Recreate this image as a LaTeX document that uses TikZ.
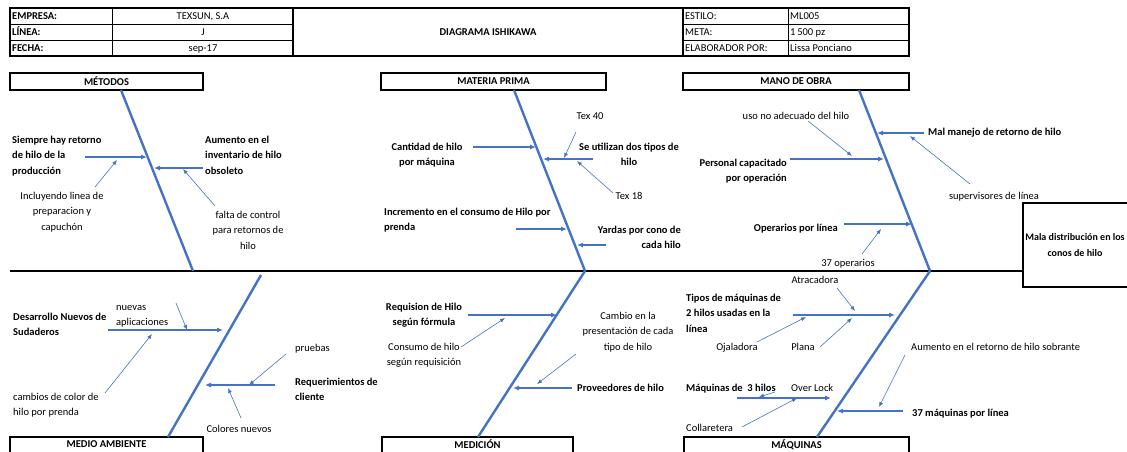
\documentclass[tikz,border=0pt]{standalone}
\usepackage{fontspec}
\setmainfont{Carlito}
\usetikzlibrary{arrows.meta}
\definecolor{boneblue}{RGB}{68,114,196}
\begin{document}
\begin{tikzpicture}[x=1pt,y=-1pt,
  font=\fontsize{10.5}{15.5}\selectfont,
  bone/.style={boneblue,line width=2.4pt},
  cause/.style={boneblue,line width=1.1pt,-{Latex[length=6pt,width=5pt]}},
  sub/.style={boneblue,line width=0.6pt,-{Latex[length=5pt,width=4pt]}},
  catbox/.style={draw,line width=1.6pt,minimum height=17pt,inner sep=0pt,font=\fontsize{10.5}{12}\selectfont\bfseries},
  cattext/.style={inner sep=0pt,font=\fontsize{10.5}{12}\selectfont\bfseries},
  lbl/.style={inner sep=0pt},
  blbl/.style={inner sep=0pt,font=\fontsize{10.5}{15.5}\selectfont\bfseries}]
\useasboundingbox (0,0) rectangle (1127,451);
\clip (0,0) rectangle (1127,451);
\draw[line width=1.6pt] (10,8) rectangle (909,56);
\draw[line width=0.6pt] (10,24) -- (293,24) (10,40) -- (293,40) (683,24) -- (909,24) (683,40) -- (909,40);
\draw[line width=0.6pt] (112,8) -- (112,56) (788,8) -- (788,56);
\draw[line width=1.2pt] (293,8) -- (293,56) (683,8) -- (683,56);
\node[blbl,anchor=base west] (empresa) at (12,19.5) {EMPRESA:};
\node[blbl,anchor=base west] (linea) at (12,35.5) {LÍNEA:};
\node[blbl,anchor=base west] (fecha) at (12,51.5) {FECHA:};
\node[lbl,anchor=base] (texsun) at (203,19.5) {TEXSUN, S.A};
\node[lbl,anchor=base] (j) at (203,35.5) {J};
\node[lbl,anchor=base] (sep) at (203,51.5) {sep-17};
\node[blbl,anchor=base] (titulo) at (488,35.5) {DIAGRAMA ISHIKAWA};
\node[lbl,anchor=base west] (estilo) at (685,19.5) {ESTILO:};
\node[lbl,anchor=base west] (meta) at (685,35.5) {META:};
\node[lbl,anchor=base west] (elab) at (685,51.5) {ELABORADOR POR:};
\node[lbl,anchor=base west] (ml) at (790,19.5) {ML005};
\node[lbl,anchor=base west] (pz) at (790,35.5) {1\,500 pz};
\node[lbl,anchor=base west] (lissa) at (790,51.5) {Lissa Ponciano};
\node[catbox,minimum width=193pt] (metodos) at (106.5,81.5) {MÉTODOS};
\node[catbox,minimum width=225pt] (materia) at (493.5,81.5) {MATERIA PRIMA};
\node[catbox,minimum width=226pt] (mano) at (796,81.5) {MANO DE OBRA};
\draw[line width=1.6pt] (10,458) |- (203,437) -- (203,458);
\draw[line width=1.6pt] (382,458) |- (573,437) -- (573,458);
\draw[line width=1.6pt] (684,458) |- (909,437) -- (909,458);
\node[cattext] (medio) at (106.5,444.5) {MEDIO AMBIENTE};
\node[cattext] (medicion) at (477.5,444.5) {MEDICIÓN};
\node[cattext] (maquinas) at (796.5,444.5) {MÁQUINAS};
\draw[line width=1.6pt] (1140,203) -| (1023,287) -- (1140,287);
\node[inner sep=0pt,align=center,font=\fontsize{10}{15.5}\selectfont\bfseries] (efecto) at (1075,245) {Mala distribución en los\\conos de hilo};
\draw[line width=2pt] (10,271) -- (1023,271);
\draw[bone] (121,90) -- (193,271);
\draw[bone] (514,90) -- (585,271);
\draw[bone] (859,90) -- (930,271);
\draw[bone] (261,275) -- (168,437);
\draw[bone] (585,271) -- (478,437);
\draw[bone] (930,271) -- (817,437);
\node[blbl,anchor=base west,align=left] (siempre) at (12,174) {Siempre hay retorno\\de hilo de la\\producción};
\node[lbl,anchor=base,align=center] (incluyendo) at (62,230) {Incluyendo linea de\\preparacion y\\capuchón};
\node[blbl,anchor=base west,align=left] (aumento) at (205,174) {Aumento en el\\inventario de hilo\\obsoleto};
\node[lbl,anchor=base,align=center] (falta) at (248,249) {falta de control\\para retornos de\\hilo};
\draw[cause] (85,157) -- (147,157);
\draw[sub] (95,187) -- (117,160);
\draw[cause] (203,168) -- (154,168);
\draw[sub] (215,206) -- (183,169);
\node[blbl,anchor=base,align=center] (cantidad) at (427,165.5) {Cantidad de hilo\\por máquina};
\node[blbl,anchor=base,align=center] (tipos) at (629,165.5) {Se utilizan dos tipos de\\hilo};
\node[lbl,anchor=base] (tex40) at (590,119.5) {Tex 40};
\node[lbl,anchor=base] (tex18) at (629,199.5) {Tex 18};
\node[blbl,anchor=base west,align=left] (incremento) at (384,230.5) {Incremento en el consumo de Hilo por\\prenda};
\node[blbl,anchor=base east,align=right] (yardas) at (681,248.5) {Yardas por cono de\\cada hilo};
\draw[cause] (473,147) -- (536,147);
\draw[cause] (593,159) -- (543,159);
\draw[sub] (576,132) -- (564,158);
\draw[sub] (613,193) -- (577,161);
\draw[cause] (516,229) -- (567,229);
\draw[cause] (606,245) -- (577,245);
\node[lbl,anchor=base] (uso) at (796,119.5) {uso no adecuado del hilo};
\node[blbl,anchor=base east,align=right] (personal) at (787,181.5) {Personal capacitado\\por operación};
\node[blbl,anchor=base west] (malmanejo) at (928,135.5) {Mal manejo de retorno de hilo};
\node[lbl,anchor=base] (supervisores) at (994,199.5) {supervisores de línea};
\node[blbl,anchor=base east] (operarios) at (838,231.5) {Operarios por línea};
\node[lbl,anchor=base] (treinta) at (848,266.5) {37 operarios};
\draw[sub] (808,121) -- (852,156);
\draw[cause] (790,159) -- (884,159);
\draw[cause] (924,133) -- (877,133);
\draw[sub] (970,184) -- (910,136);
\draw[cause] (844,224) -- (912,224);
\draw[sub] (862,254) -- (881,229);
\node[blbl,anchor=base west,align=left] (desarrollo) at (13,335.5) {Desarrollo Nuevos de\\Sudaderos};
\node[lbl,anchor=base west,align=left] (nuevas) at (116,325.5) {nuevas\\aplicaciones};
\node[lbl,anchor=base west,align=left] (cambios) at (13,415.5) {cambios de color de\\hilo por prenda};
\node[lbl,anchor=base west] (pruebas) at (295,351.5) {pruebas};
\node[blbl,anchor=base west,align=left] (requerimientos) at (295,400.5) {Requerimientos de\\cliente};
\node[lbl,anchor=base] (colores) at (239,432.5) {Colores nuevos};
\draw[cause] (108,330) -- (223,330);
\draw[sub] (176,303) -- (187,330);
\draw[sub] (105,393) -- (152,334);
\draw[sub] (286,354) -- (249,385);
\draw[cause] (275,385) -- (205,385);
\draw[sub] (241,418) -- (228,388);
\node[blbl,anchor=base,align=center] (requision) at (424,325.5) {Requision de Hilo\\según fórmula};
\node[lbl,anchor=base,align=center] (consumo) at (424,365.5) {Consumo de hilo\\según requisición};
\node[lbl,anchor=base,align=center] (cambio) at (628,350) {Cambio en la\\presentación de cada\\tipo de hilo};
\node[blbl,anchor=base west] (proveedores) at (577,391.5) {Proveedores de hilo};
\draw[cause] (468,315) -- (557,315);
\draw[sub] (461,347) -- (505,318);
\draw[sub] (576,354) -- (537,384);
\draw[cause] (572,388) -- (513,388);
\node[lbl,anchor=base] (atracadora) at (815,283.5) {Atracadora};
\node[blbl,anchor=base west,align=left] (tiposmaq) at (686,332) {Tipos de máquinas de\\2 hilos usadas en la\\línea};
\node[lbl,anchor=base] (ojaladora) at (737,350.5) {Ojaladora};
\node[lbl,anchor=base] (plana) at (803,350.5) {Plana};
\node[lbl,anchor=base west] (sobrante) at (911,350.5) {Aumento en el retorno de hilo sobrante};
\node[blbl,anchor=base west] (tres) at (686,391.5) {Máquinas de\ \ 3 hilos};
\node[lbl,anchor=base west] (overlock) at (791,391.5) {Over Lock};
\node[lbl,anchor=base west] (collaretera) at (686,431.5) {Collaretera};
\node[blbl,anchor=base west] (treintasiete) at (912,416.5) {37 máquinas por línea};
\draw[sub] (837,288) -- (855,311);
\draw[cause] (793,315) -- (895,315);
\draw[sub] (757,342) -- (806,317);
\draw[sub] (820,347) -- (852,318);
\draw[sub] (905,355) -- (879,407);
\draw[cause] (737,398) -- (831,398);
\draw[sub] (775,392) -- (759,397);
\draw[sub] (742,427) -- (797,398);
\draw[cause] (903,411) -- (837,411);
\end{tikzpicture}
\end{document}
